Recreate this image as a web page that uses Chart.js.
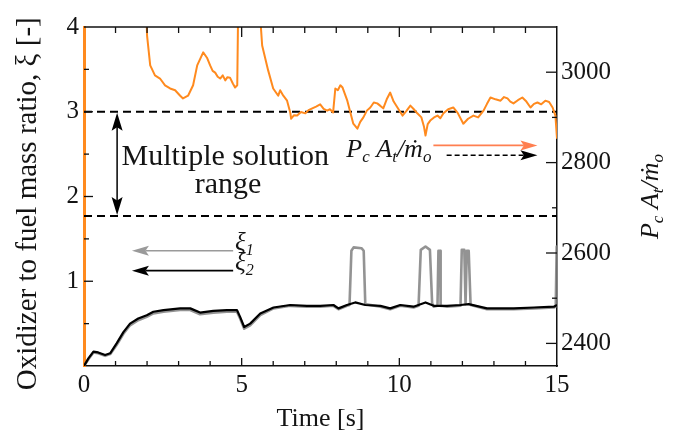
<!DOCTYPE html>
<html><head><meta charset="utf-8">
<script src="https://cdn.jsdelivr.net/npm/chart.js@4.4.0/dist/chart.umd.min.js"></script>
<style>html,body{margin:0;padding:0;background:#fff;}#wrap{width:676px;height:432px;}</style>
</head><body><div id="wrap"><canvas id="c" width="676" height="432"></canvas></div>
<script>
// ---- data ----
const timeXi2 = [0, 0.14, 0.30, 0.45, 0.67, 0.83, 1.04, 1.25, 1.46, 1.72, 1.99, 2.20, 2.52, 3.05, 3.37, 3.68, 4.10, 4.53, 4.85, 4.95, 5.08, 5.27, 5.59, 6.01, 6.54, 7.07, 7.49, 7.91, 8.07, 8.34, 8.60, 8.92, 9.40, 9.71, 10.03, 10.45, 10.83, 11.09, 11.51, 11.94, 12.20, 12.78, 13.63, 14.27, 14.90, 15];
const xi2 = [0, 0.09, 0.17, 0.16, 0.13, 0.15, 0.27, 0.40, 0.50, 0.56, 0.60, 0.64, 0.66, 0.68, 0.68, 0.63, 0.65, 0.66, 0.66, 0.58, 0.46, 0.50, 0.62, 0.69, 0.72, 0.71, 0.71, 0.72, 0.68, 0.72, 0.75, 0.72, 0.71, 0.68, 0.72, 0.70, 0.75, 0.71, 0.71, 0.72, 0.73, 0.68, 0.68, 0.69, 0.70, 0.72];

const timeXi1 = [0, 0.14, 0.30, 0.45, 0.67, 0.83, 1.04, 1.25, 1.46, 1.72, 1.99, 2.20, 2.52, 3.05, 3.37, 3.68, 4.10, 4.53, 4.85, 4.95, 5.08, 5.27, 5.59, 6.01, 6.54, 7.07, 7.49, 7.91, 8.07, 8.34, 8.42, 8.48, 8.55, 8.80, 8.87, 8.92, 9.40, 9.71, 10.03, 10.45, 10.61, 10.68, 10.83, 10.97, 11.04, 11.09, 11.21, 11.24, 11.29, 11.31, 11.51, 11.94, 11.98, 12.06, 12.10, 12.14, 12.20, 12.26, 12.78, 13.63, 14.27, 14.90, 14.96, 14.99, 15];
const xi1 = [0, 0.08, 0.16, 0.15, 0.12, 0.14, 0.25, 0.38, 0.48, 0.54, 0.58, 0.62, 0.64, 0.66, 0.66, 0.61, 0.63, 0.64, 0.64, 0.56, 0.44, 0.48, 0.60, 0.68, 0.71, 0.70, 0.70, 0.71, 0.67, 0.71, 0.72, 1.36, 1.40, 1.39, 1.36, 0.73, 0.70, 0.67, 0.71, 0.69, 0.71, 1.37, 1.41, 1.37, 0.74, 0.70, 0.71, 1.36, 1.36, 0.71, 0.70, 0.71, 1.37, 1.37, 0.73, 1.36, 1.36, 0.72, 0.67, 0.67, 0.68, 0.69, 0.70, 1.41, 1.41];

const timePc = [1.97, 2.00, 2.10, 2.25, 2.41, 2.57, 2.73, 2.89, 3.05, 3.14, 3.30, 3.46, 3.59, 3.78, 3.90, 4.00, 4.08, 4.16, 4.24, 4.32, 4.40, 4.48, 4.55, 4.63, 4.72, 4.79, 4.86, 4.89, 5.56, 5.65, 5.84, 6.00, 6.16, 6.22, 6.32, 6.44, 6.54, 6.57, 6.66, 6.76, 6.88, 7.02, 7.12, 7.24, 7.36, 7.49, 7.60, 7.71, 7.80, 7.90, 7.97, 8.05, 8.13, 8.20, 8.35, 8.54, 8.67, 8.76, 8.86, 8.97, 9.08, 9.19, 9.30, 9.39, 9.49, 9.60, 9.71, 9.82, 9.94, 10.10, 10.22, 10.35, 10.46, 10.57, 10.70, 10.78, 10.83, 10.90, 10.98, 11.10, 11.21, 11.30, 11.40, 11.55, 11.71, 11.85, 12.03, 12.18, 12.35, 12.50, 12.67, 12.78, 12.89, 13.05, 13.21, 13.32, 13.43, 13.52, 13.62, 13.76, 13.90, 14.03, 14.16, 14.27, 14.38, 14.50, 14.63, 14.75, 14.86, 14.95, 15.0];
const pcAtMo = [3150, 3081, 3015, 2993, 2986, 2971, 2964, 2960, 2948, 2942, 2948, 2971, 3015, 3044, 3032, 3015, 3003, 2999, 2990, 2986, 2993, 2982, 2989, 2988, 2975, 2966, 2971, 3150, 3150, 3059, 3004, 2964, 2948, 2960, 2948, 2937, 2911, 2897, 2905, 2904, 2912, 2909, 2916, 2920, 2924, 2929, 2919, 2915, 2918, 2911, 2964, 2960, 2971, 2966, 2937, 2886, 2875, 2890, 2900, 2915, 2922, 2933, 2931, 2926, 2920, 2940, 2955, 2935, 2922, 2904, 2914, 2926, 2918, 2909, 2900, 2880, 2860, 2885, 2893, 2900, 2904, 2898, 2909, 2918, 2922, 2910, 2886, 2897, 2904, 2900, 2915, 2930, 2944, 2940, 2937, 2945, 2942, 2935, 2931, 2938, 2944, 2935, 2922, 2930, 2933, 2929, 2937, 2934, 2922, 2904, 2853];

const rangeUpper = 3.0;
const rangeLower = 1.77;
const xTickValues = [0, 5, 10, 15];
const leftTickValues = [1, 2, 3, 4];
const rightTickValues = [2400, 2600, 2800, 3000];

// ---- helpers ----
const pts = (ts, vs) => ts.map((t, i) => ({x: t, y: vs[i]}));
const SERIF = "'Liberation Serif', 'DejaVu Serif', serif";
const TXT = '#141414';
Chart.defaults.font.family = SERIF;
Chart.defaults.color = TXT;

function arrowHead(ctx, x, y, dx, dy, len, hw, color) {
  const n = Math.hypot(dx, dy); const ux = dx / n, uy = dy / n;
  ctx.fillStyle = color;
  ctx.beginPath();
  ctx.moveTo(x, y);
  ctx.lineTo(x - ux * len - uy * hw, y - uy * len + ux * hw);
  ctx.lineTo(x - ux * len * 0.8, y - uy * len * 0.8);
  ctx.lineTo(x - ux * len + uy * hw, y - uy * len - ux * hw);
  ctx.closePath();
  ctx.fill();
}
function arrow(ctx, x1, y1, x2, y2, color, width, dash, len, hw) {
  const n = Math.hypot(x2 - x1, y2 - y1); const ux = (x2 - x1) / n, uy = (y2 - y1) / n;
  ctx.save();
  ctx.strokeStyle = color; ctx.lineWidth = width; ctx.setLineDash(dash || []);
  ctx.beginPath(); ctx.moveTo(x1, y1); ctx.lineTo(x2 - ux * len * 0.8, y2 - uy * len * 0.8); ctx.stroke();
  ctx.setLineDash([]);
  arrowHead(ctx, x2, y2, x2 - x1, y2 - y1, len, hw, color);
  ctx.restore();
}
function rich(ctx, parts, x, y, size) {
  let cx = x;
  parts.forEach(p => {
    const s = p.sub ? Math.round(size * 0.65) : size;
    ctx.font = 'italic ' + s + 'px ' + SERIF;
    ctx.fillText(p.t, cx, y + (p.sub ? size * 0.2 : 0));
    cx += ctx.measureText(p.t).width;
  });
  return cx - x;
}
function richWidth(ctx, parts, size) {
  let w = 0;
  parts.forEach(p => { const s = p.sub ? Math.round(size * 0.65) : size; ctx.font = 'italic ' + s + 'px ' + SERIF; w += ctx.measureText(p.t).width; });
  return w;
}
const pcParts = [{t: 'P'}, {t: 'c', sub: true}, {t: ' A'}, {t: 't', sub: true}, {t: '/\u1E41'}, {t: 'o', sub: true}];

const decor = {
  id: 'decor',
  afterDatasetsDraw(chart) {
    const ctx = chart.ctx, a = chart.chartArea;
    const X = chart.scales.x, Y = chart.scales.y, Y2 = chart.scales.y2;
    ctx.save();
    ctx.strokeStyle = '#111'; ctx.lineWidth = 1.5;
    ctx.beginPath(); ctx.moveTo(a.left, a.top); ctx.lineTo(a.right, a.top); ctx.stroke();
    ctx.lineWidth = 1.3;
    for (let t = 1; t < 15; t++) {
      const px = X.getPixelForValue(t); const major = t % 5 === 0;
      ctx.beginPath(); ctx.moveTo(px, a.bottom); ctx.lineTo(px, a.bottom - (major ? 8 : 5)); ctx.stroke();
      ctx.beginPath(); ctx.moveTo(px, a.top); ctx.lineTo(px, a.top + (major ? 10 : 6)); ctx.stroke();
    }
    for (let v = 0.5; v < 4; v += 0.5) {
      const py = Y.getPixelForValue(v); const major = Number.isInteger(v);
      ctx.beginPath(); ctx.moveTo(a.left, py); ctx.lineTo(a.left + (major ? 9 : 5), py); ctx.stroke();
    }
    for (let v = 2400; v <= 3000; v += 100) {
      const py = Y2.getPixelForValue(v); const major = v % 200 === 0;
      ctx.beginPath(); ctx.moveTo(a.right, py); ctx.lineTo(a.right - (major ? 11 : 5), py); ctx.stroke();
    }
    const ax = X.getPixelForValue(1.05);
    const yt = Y.getPixelForValue(rangeUpper), yb = Y.getPixelForValue(rangeLower);
    ctx.strokeStyle = '#000'; ctx.lineWidth = 1.5;
    ctx.beginPath(); ctx.moveTo(ax, yt + 14); ctx.lineTo(ax, yb - 14); ctx.stroke();
    arrowHead(ctx, ax, yt + 1, 0, -1, 18, 5.5, '#000');
    arrowHead(ctx, ax, yb - 1, 0, 1, 18, 5.5, '#000');
    ctx.fillStyle = TXT; ctx.textAlign = 'center'; ctx.textBaseline = 'alphabetic';
    ctx.font = '30px ' + SERIF;
    ctx.fillText('Multiple solution', X.getPixelForValue(4.48), Y.getPixelForValue(2.37));
    ctx.fillText('range', X.getPixelForValue(4.57), Y.getPixelForValue(2.04));
    const xs = X.getPixelForValue(1.52), xe = X.getPixelForValue(4.73);
    const y1 = Y.getPixelForValue(1.36), y2p = Y.getPixelForValue(1.125);
    arrow(ctx, xe, y1, xs, y1, '#9a9a9a', 1.6, null, 17, 5);
    arrow(ctx, xe, y2p, xs, y2p, '#000', 1.6, null, 17, 5);
    ctx.textAlign = 'left'; ctx.fillStyle = TXT;
    rich(ctx, [{t: '\u03BE'}, {t: '1', sub: true}], X.getPixelForValue(4.79), Y.getPixelForValue(1.37), 25);
    rich(ctx, [{t: '\u03BE'}, {t: '2', sub: true}], X.getPixelForValue(4.79), Y.getPixelForValue(1.135), 25);
    const ox1 = X.getPixelForValue(11.08), ox2 = X.getPixelForValue(14.38);
    arrow(ctx, ox1, Y2.getPixelForValue(2838), ox2, Y2.getPixelForValue(2838), '#ff7f50', 1.8, null, 17, 5);
    arrow(ctx, X.getPixelForValue(11.5), Y2.getPixelForValue(2816), ox2, Y2.getPixelForValue(2816), '#000', 1.5, [5, 3], 17, 5);
    ctx.fillStyle = TXT;
    rich(ctx, pcParts, X.getPixelForValue(8.32), Y2.getPixelForValue(2812), 26);
    const w = richWidth(ctx, pcParts, 26);
    ctx.translate(658, (a.top + a.bottom) / 2 + w / 2);
    ctx.rotate(-Math.PI / 2);
    rich(ctx, pcParts, 0, 0, 26);
    ctx.restore();
  }
};

const mkTickFont = () => ({family: SERIF, size: 25});
const plain = v => String(v);
new Chart(document.getElementById('c'), {
  type: 'line',
  data: {
    datasets: [
      {label: '\u03BE2', data: pts(timeXi2, xi2), yAxisID: 'y', borderColor: '#000', borderWidth: 2.2, order: 0},
      {label: '\u03BE1', data: pts(timeXi1, xi1), yAxisID: 'y', borderColor: 'rgba(128,128,128,0.85)', borderWidth: 2.6, order: 1},
      {label: 'Pc At/mo', data: pts(timePc, pcAtMo), yAxisID: 'y2', borderColor: '#ff8a1e', borderWidth: 2, order: 2},
      {label: 'upper', data: [{x: 0, y: rangeUpper}, {x: 15, y: rangeUpper}], yAxisID: 'y', borderColor: '#000', borderWidth: 2, borderDash: [8, 5], order: 3},
      {label: 'lower', data: [{x: 0, y: rangeLower}, {x: 15, y: rangeLower}], yAxisID: 'y', borderColor: '#000', borderWidth: 2, borderDash: [8, 5], order: 3}
    ]
  },
  options: {
    responsive: false, animation: false, devicePixelRatio: 1,
    layout: {padding: {top: 27, left: 0, right: 0, bottom: 0}},
    elements: {point: {radius: 0}, line: {tension: 0, borderJoinStyle: 'round', fill: false}},
    plugins: {legend: {display: false}, tooltip: {enabled: false}},
    scales: {
      x: {
        type: 'linear', position: 'bottom', min: 0, max: 15,
        afterFit: s => { s.height = 66; },
        afterBuildTicks: s => { s.ticks = xTickValues.map(v => ({value: v})); },
        grid: {display: false, drawTicks: false},
        border: {display: true, color: '#111', width: 1.5},
        ticks: {font: mkTickFont(), color: TXT, padding: 4, maxRotation: 0, callback: plain},
        title: {display: true, text: 'Time [s]', font: {family: SERIF, size: 26, lineHeight: 1}, color: TXT, padding: {top: 0, bottom: 0}}
      },
      y: {
        type: 'linear', position: 'left', min: 0, max: 4,
        afterFit: s => { s.width = 84; },
        afterBuildTicks: s => { s.ticks = leftTickValues.map(v => ({value: v})); },
        grid: {display: false, drawTicks: false},
        border: {display: true, color: '#ff8a1e', width: 3},
        ticks: {font: mkTickFont(), color: TXT, padding: 5, callback: plain},
        title: {display: true, text: 'Oxidizer to fuel mass ratio, \u03BE [-]  ', font: {family: SERIF, size: 29, lineHeight: 1}, color: TXT, padding: {top: 14, bottom: 0}}
      },
      y2: {
        type: 'linear', position: 'right', min: 2350, max: 3100,
        afterFit: s => { s.width = 119; },
        afterBuildTicks: s => { s.ticks = rightTickValues.map(v => ({value: v})); },
        grid: {display: false, drawTicks: false},
        border: {display: true, color: '#111', width: 1.5},
        ticks: {font: mkTickFont(), color: TXT, padding: 4, callback: plain}
      }
    }
  },
  plugins: [decor]
});
</script></body></html>
